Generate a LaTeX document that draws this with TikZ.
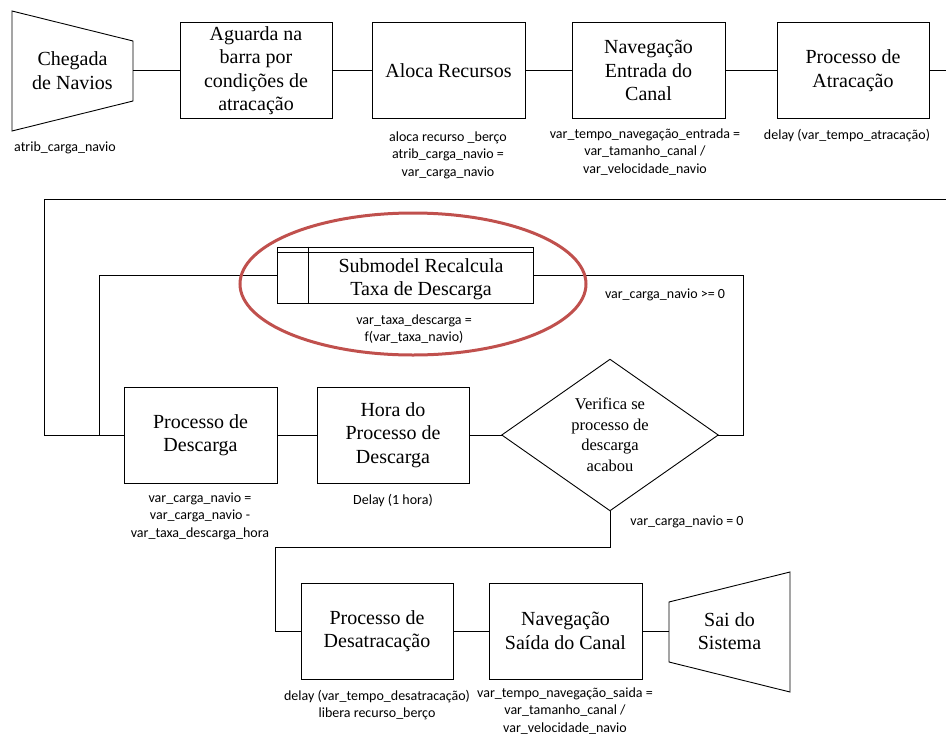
\documentclass[tikz,border=0pt]{standalone}
\usepackage{fontspec}
\setmainfont{Liberation Serif}
\newfontfamily\lblfont{Carlito}
\definecolor{ovalred}{RGB}{192,80,77}
\begin{document}
\begin{tikzpicture}[x=1pt,y=-1pt,
  box/.style={draw, line width=0.9pt, minimum width=152pt, minimum height=96pt, align=center, inner sep=2pt, font=\fontsize{20}{23.5}\selectfont},
  ghost/.style={align=center, inner sep=0pt, font=\fontsize{20}{23.5}\selectfont},
  lbl/.style={align=center, inner sep=0pt, font=\lblfont\fontsize{14}{17.5}\selectfont},
  conn/.style={line width=0.8pt},
  shp/.style={line width=0.9pt}]
\useasboundingbox (0,0) rectangle (946,737);

% ---- top row
\node[ghost, minimum width=121pt, minimum height=120pt] (chegada) at (72.5,70.5) {Chegada\\de Navios};
\draw[shp] (12,11) -- (133,41) -- (133,101) -- (12,131) -- cycle;
\node[box] (aguarda) at (256,70.5) {Aguarda na\\barra por\\condições de\\atracação};
\node[box, minimum width=153pt] (aloca) at (448.5,70.5) {Aloca Recursos};
\node[box, minimum width=153pt] (naventr) at (648.5,70.5) {Navegação\\Entrada do\\Canal};
\node[box] (atrac) at (853,70.5) {Processo de\\Atracação};
\coordinate (rt) at (946,70.5);

\draw[conn] (chegada.east) -- (aguarda.west);
\draw[conn] (aguarda.east) -- (aloca.west);
\draw[conn] (aloca.east) -- (naventr.west);
\draw[conn] (naventr.east) -- (atrac.west);
\draw[conn] (atrac.east) -- (rt);

\node[lbl] (l1) at (65,148) {atrib\_carga\_navio};
\node[lbl] (l2) at (448,155) {aloca recurso \_berço\\atrib\_carga\_navio =\\var\_carga\_navio};
\node[lbl] (l3) at (645,152) {var\_tempo\_navegação\_entrada =\\var\_tamanho\_canal /\\var\_velocidade\_navio};
\node[lbl] (l4) at (847,136) {delay (var\_tempo\_atracação)};

% ---- middle
\node[draw, line width=0.9pt, minimum width=256pt, minimum height=56pt, inner sep=0pt] (sub) at (405,275) {};
\draw[shp] ([yshift=-6pt]sub.north west) -- ([yshift=-6pt]sub.north east);
\draw[shp] ([xshift=32pt]sub.north west) -- ([xshift=32pt]sub.south west);
\node[ghost] (subtxt) at (421,279) {Submodel Recalcula\\Taxa de Descarga};
\node[lbl] (l5) at (414,329) {var\_taxa\_descarga =\\f(var\_taxa\_navio)};

\node[box, minimum width=153pt] (desc) at (200.5,435) {Processo de\\Descarga};
\node[box, minimum height=96pt] (hora) at (393,435) {Hora do\\Processo de\\Descarga};
\node[align=center, inner sep=0pt, minimum width=216pt, minimum height=151pt, font=\fontsize{16.5}{20.5}\selectfont] (dia) at (610,435) {Verifica se\\processo de\\descarga\\acabou};
\draw[shp] (dia.north) -- (dia.east) -- (dia.south) -- (dia.west) -- cycle;

\coordinate (lt) at (946,199);
\draw[conn] (lt) -- (44,199) |- (desc.west);
\draw[conn] (sub.west) -- (99,275) |- (desc.west);
\draw[conn] (desc.east) -- (hora.west);
\draw[conn] (hora.east) -- (dia.west);
\draw[conn] (dia.east) -- (743,435) |- (sub.east);

\node[lbl] (l6) at (665,295) {var\_carga\_navio >= 0};
\node[lbl] (l7) at (200,516) {var\_carga\_navio =\\var\_carga\_navio -\\var\_taxa\_descarga\_hora};
\node[lbl] (l8) at (393,501) {Delay (1 hora)};
\node[lbl] (l9) at (687,522) {var\_carga\_navio = 0};

% ---- bottom row
\node[box, minimum height=96pt] (desatr) at (377,631) {Processo de\\Desatracação};
\node[box, minimum width=153pt, minimum height=96pt] (navsai) at (565.5,631) {Navegação\\Saída do Canal};
\node[ghost, minimum width=121pt, minimum height=120pt] (sai) at (729.5,631) {Sai do\\Sistema};
\draw[shp] (669,602) -- (790,572) -- (790,692) -- (669,662) -- cycle;

\draw[conn] (dia.south) |- (275,547) |- (desatr.west);
\draw[conn] (desatr.east) -- (navsai.west);
\draw[conn] (navsai.east) -- (sai.west);

\node[lbl] (l10) at (377,705) {delay (var\_tempo\_desatracação)\\libera recurso\_berço};
\node[lbl] (l11) at (565,711) {var\_tempo\_navegação\_saida =\\var\_tamanho\_canal /\\var\_velocidade\_navio};

% ---- highlight oval
\draw[ovalred, line width=3pt] (413,284) ellipse [x radius=173, y radius=71];
\end{tikzpicture}
\end{document}
